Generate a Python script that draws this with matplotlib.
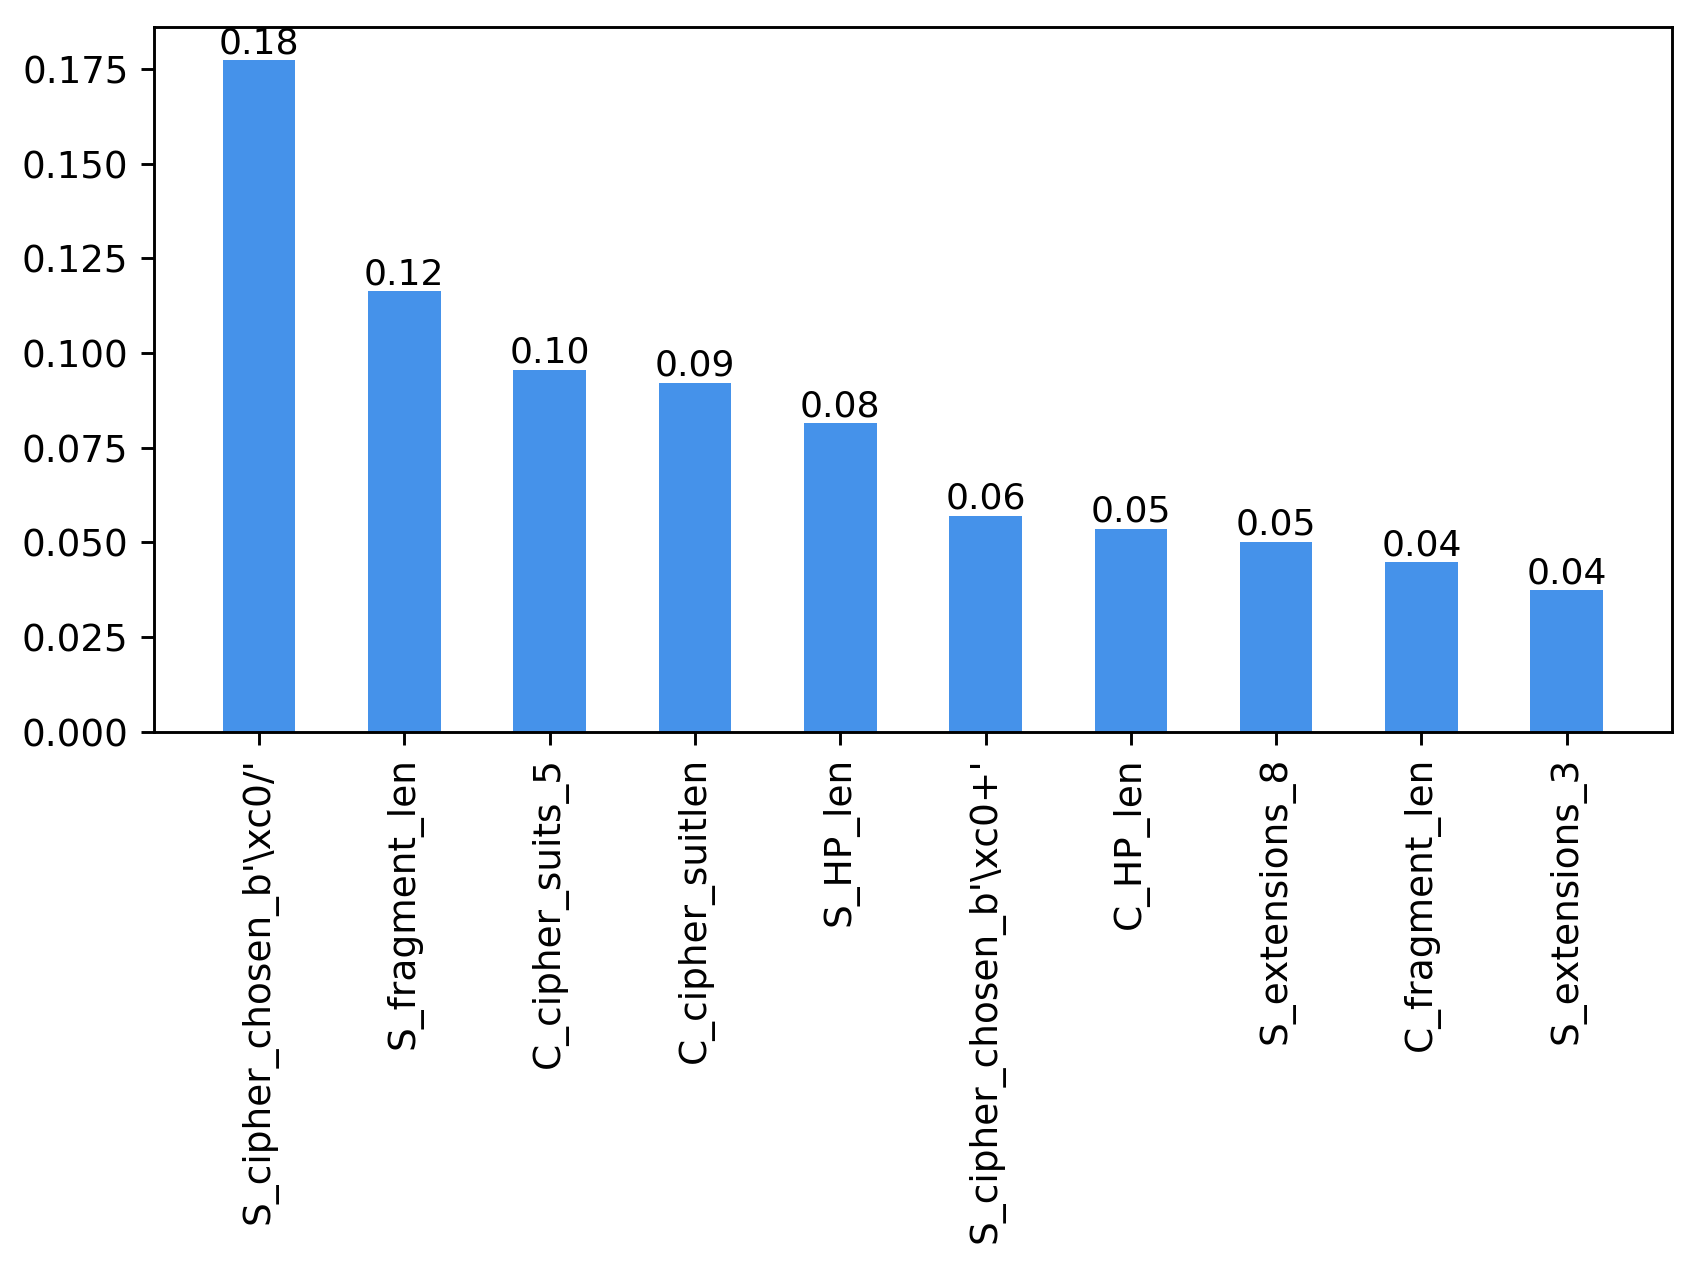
import matplotlib
matplotlib.use('Agg')
import matplotlib.pyplot as plt
import numpy as np

features = ["S_cipher_chosen_b'\\xc0/'", "S_fragment_len", "C_cipher_suits_5",
            "C_cipher_suitlen", "S_HP_len", "S_cipher_chosen_b'\\xc0+'",
            "C_HP_len", "S_extensions_8", "C_fragment_len", "S_extensions_3"]
importance = [0.1773, 0.1163, 0.0956, 0.0922, 0.0814, 0.0570, 0.0536, 0.0502, 0.0448, 0.0374]


def main():
    fig = plt.figure(figsize=(1689 / 260, 1266 / 260), dpi=260)
    ax = fig.add_axes([0.091, 0.422, 0.899, 0.557])
    x = np.arange(len(features))
    bars = ax.bar(x, importance, width=0.5, color='#4592ea')
    for b, v in zip(bars, importance):
        ax.text(b.get_x() + b.get_width() / 2, v, '%.2f' % v,
                ha='center', va='bottom', fontsize=10)
    ax.set_xticks(x)
    ax.set_xticklabels(features, rotation=90, fontsize=10.4)
    ax.tick_params(axis='y', labelsize=10.3)
    fig.savefig('out.png', dpi=260)


if __name__ == '__main__':
    main()
